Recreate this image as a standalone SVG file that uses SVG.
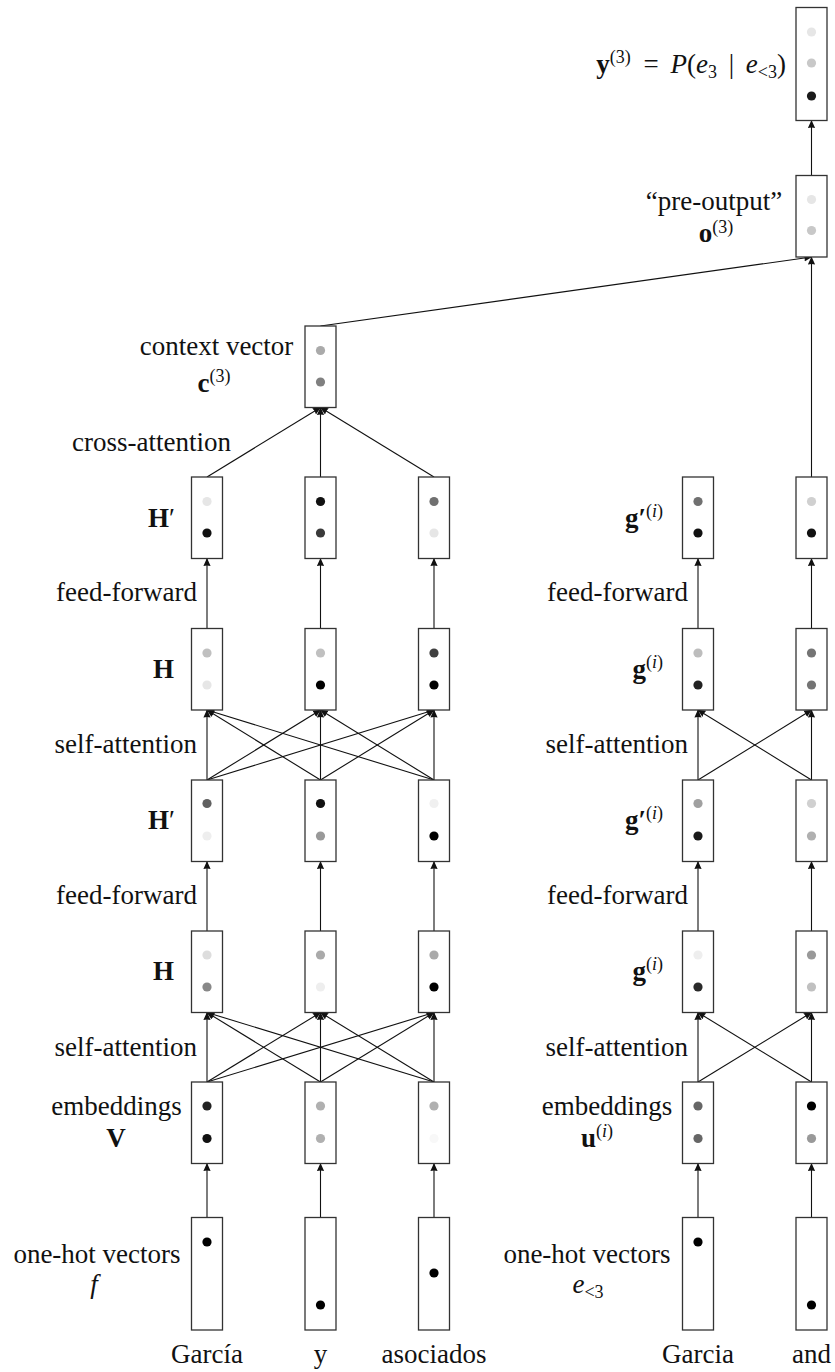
<svg xmlns="http://www.w3.org/2000/svg" width="835" height="1372" viewBox="0 0 835 1372">
<style>
.box{fill:#fff;stroke:#333;stroke-width:1.3}
.lbl{font-family:"Liberation Serif","Times New Roman",serif;font-size:27px;fill:#111}
.sup{font-size:18px}
.b{font-weight:bold}
.i{font-style:italic}
.edge{stroke:#111;stroke-width:1.1;fill:none;marker-end:url(#ah)}
</style>
<defs>
<marker id="ah" viewBox="0 0 8 8" refX="7.5" refY="4" markerWidth="8" markerHeight="8" markerUnits="userSpaceOnUse" orient="auto">
<path d="M0,0.4 L8,4 L0,7.6 Q1.2,4 0,0.4 Z" fill="#111"/>
</marker>
</defs>
<rect width="835" height="1372" fill="#fff"/>

<g id="connectors">
<!-- one-hot to embeddings -->
<line class="edge" x1="207" y1="1217.5" x2="207" y2="1163.5"/>
<line class="edge" x1="320.5" y1="1217.5" x2="320.5" y2="1163.5"/>
<line class="edge" x1="434" y1="1217.5" x2="434" y2="1163.5"/>
<line class="edge" x1="698" y1="1217.5" x2="698" y2="1163.5"/>
<line class="edge" x1="811.5" y1="1217.5" x2="811.5" y2="1163.5"/>
<!-- self-attention 1 (emb -> H) -->
<line class="edge" x1="207" y1="1082" x2="207" y2="1012.5"/>
<line class="edge" x1="207" y1="1082" x2="320.5" y2="1012.5"/>
<line class="edge" x1="207" y1="1082" x2="434" y2="1012.5"/>
<line class="edge" x1="320.5" y1="1082" x2="207" y2="1012.5"/>
<line class="edge" x1="320.5" y1="1082" x2="320.5" y2="1012.5"/>
<line class="edge" x1="320.5" y1="1082" x2="434" y2="1012.5"/>
<line class="edge" x1="434" y1="1082" x2="207" y2="1012.5"/>
<line class="edge" x1="434" y1="1082" x2="320.5" y2="1012.5"/>
<line class="edge" x1="434" y1="1082" x2="434" y2="1012.5"/>
<line class="edge" x1="698" y1="1082" x2="698" y2="1012.5"/>
<line class="edge" x1="698" y1="1082" x2="811.5" y2="1012.5"/>
<line class="edge" x1="811.5" y1="1082" x2="698" y2="1012.5"/>
<line class="edge" x1="811.5" y1="1082" x2="811.5" y2="1012.5"/>
<!-- feed-forward 1 (H -> H') -->
<line class="edge" x1="207" y1="931" x2="207" y2="861.5"/>
<line class="edge" x1="320.5" y1="931" x2="320.5" y2="861.5"/>
<line class="edge" x1="434" y1="931" x2="434" y2="861.5"/>
<line class="edge" x1="698" y1="931" x2="698" y2="861.5"/>
<line class="edge" x1="811.5" y1="931" x2="811.5" y2="861.5"/>
<!-- self-attention 2 (H' -> H) -->
<line class="edge" x1="207" y1="780" x2="207" y2="710"/>
<line class="edge" x1="207" y1="780" x2="320.5" y2="710"/>
<line class="edge" x1="207" y1="780" x2="434" y2="710"/>
<line class="edge" x1="320.5" y1="780" x2="207" y2="710"/>
<line class="edge" x1="320.5" y1="780" x2="320.5" y2="710"/>
<line class="edge" x1="320.5" y1="780" x2="434" y2="710"/>
<line class="edge" x1="434" y1="780" x2="207" y2="710"/>
<line class="edge" x1="434" y1="780" x2="320.5" y2="710"/>
<line class="edge" x1="434" y1="780" x2="434" y2="710"/>
<line class="edge" x1="698" y1="780" x2="698" y2="710"/>
<line class="edge" x1="698" y1="780" x2="811.5" y2="710"/>
<line class="edge" x1="811.5" y1="780" x2="698" y2="710"/>
<line class="edge" x1="811.5" y1="780" x2="811.5" y2="710"/>
<!-- feed-forward 2 (H -> H') -->
<line class="edge" x1="207" y1="628.5" x2="207" y2="558.5"/>
<line class="edge" x1="320.5" y1="628.5" x2="320.5" y2="558.5"/>
<line class="edge" x1="434" y1="628.5" x2="434" y2="558.5"/>
<line class="edge" x1="698" y1="628.5" x2="698" y2="558.5"/>
<line class="edge" x1="811.5" y1="628.5" x2="811.5" y2="558.5"/>
<!-- cross-attention -->
<line class="edge" x1="207" y1="477" x2="320.5" y2="407.5"/>
<line class="edge" x1="320.5" y1="477" x2="320.5" y2="407.5"/>
<line class="edge" x1="434" y1="477" x2="320.5" y2="407.5"/>
<!-- to pre-output -->
<line class="edge" x1="320.5" y1="326" x2="811.5" y2="257"/>
<line class="edge" x1="811.5" y1="477" x2="811.5" y2="257"/>
<!-- to output -->
<line class="edge" x1="811.5" y1="175.5" x2="811.5" y2="120.5"/>
</g>

<g id="output">
<rect class="box" x="796" y="7.5" width="31" height="113"/>
<circle cx="811.5" cy="32" r="4.6" fill="#e6e6e6"/>
<circle cx="811.5" cy="63" r="4.6" fill="#c8c8c8"/>
<circle cx="811.5" cy="96" r="4.6" fill="#1a1a1a"/>
</g>
<g id="preoutput">
<rect class="box" x="796" y="175.5" width="31" height="81.5"/>
<circle cx="811.5" cy="199.5" r="4.6" fill="#e6e6e6"/>
<circle cx="811.5" cy="230.5" r="4.6" fill="#c8c8c8"/>
</g>
<g id="context">
<rect class="box" x="305" y="326" width="31" height="81.5"/>
<circle cx="320.5" cy="350.5" r="4.6" fill="#aaaaaa"/>
<circle cx="320.5" cy="382" r="4.6" fill="#808080"/>
</g>

<!-- row 1: H' top -->
<g id="h2p-1"><rect class="box" x="191.5" y="477" width="31" height="81.5"/>
<circle cx="207" cy="501.5" r="4.6" fill="#e6e6e6"/><circle cx="207" cy="533" r="4.6" fill="#111"/></g>
<g id="h2p-2"><rect class="box" x="305" y="477" width="31" height="81.5"/>
<circle cx="320.5" cy="501.5" r="4.6" fill="#111"/><circle cx="320.5" cy="533" r="4.6" fill="#3a3a3a"/></g>
<g id="h2p-3"><rect class="box" x="418.5" y="477" width="31" height="81.5"/>
<circle cx="434" cy="501.5" r="4.6" fill="#707070"/><circle cx="434" cy="533" r="4.6" fill="#e6e6e6"/></g>
<g id="g2p-1"><rect class="box" x="682.5" y="477" width="31" height="81.5"/>
<circle cx="698" cy="501.5" r="4.6" fill="#707070"/><circle cx="698" cy="533" r="4.6" fill="#111"/></g>
<g id="g2p-2"><rect class="box" x="796" y="477" width="31" height="81.5"/>
<circle cx="811.5" cy="501.5" r="4.6" fill="#d0d0d0"/><circle cx="811.5" cy="533" r="4.6" fill="#111"/></g>

<!-- row 2: H -->
<g id="h2-1"><rect class="box" x="191.5" y="628.5" width="31" height="81.5"/>
<circle cx="207" cy="653" r="4.6" fill="#c0c0c0"/><circle cx="207" cy="685" r="4.6" fill="#e6e6e6"/></g>
<g id="h2-2"><rect class="box" x="305" y="628.5" width="31" height="81.5"/>
<circle cx="320.5" cy="653" r="4.6" fill="#c0c0c0"/><circle cx="320.5" cy="685" r="4.6" fill="#000"/></g>
<g id="h2-3"><rect class="box" x="418.5" y="628.5" width="31" height="81.5"/>
<circle cx="434" cy="653" r="4.6" fill="#404040"/><circle cx="434" cy="685" r="4.6" fill="#000"/></g>
<g id="g2-1"><rect class="box" x="682.5" y="628.5" width="31" height="81.5"/>
<circle cx="698" cy="653" r="4.6" fill="#bdbdbd"/><circle cx="698" cy="685" r="4.6" fill="#222"/></g>
<g id="g2-2"><rect class="box" x="796" y="628.5" width="31" height="81.5"/>
<circle cx="811.5" cy="653" r="4.6" fill="#747474"/><circle cx="811.5" cy="685" r="4.6" fill="#747474"/></g>

<!-- row 3: H' -->
<g id="h1p-1"><rect class="box" x="191.5" y="780" width="31" height="81.5"/>
<circle cx="207" cy="803.5" r="4.6" fill="#606060"/><circle cx="207" cy="836" r="4.6" fill="#eeeeee"/></g>
<g id="h1p-2"><rect class="box" x="305" y="780" width="31" height="81.5"/>
<circle cx="320.5" cy="803.5" r="4.6" fill="#111"/><circle cx="320.5" cy="836" r="4.6" fill="#999"/></g>
<g id="h1p-3"><rect class="box" x="418.5" y="780" width="31" height="81.5"/>
<circle cx="434" cy="803.5" r="4.6" fill="#f0f0f0"/><circle cx="434" cy="836" r="4.6" fill="#000"/></g>
<g id="g1p-1"><rect class="box" x="682.5" y="780" width="31" height="81.5"/>
<circle cx="698" cy="803.5" r="4.6" fill="#a0a0a0"/><circle cx="698" cy="836" r="4.6" fill="#1a1a1a"/></g>
<g id="g1p-2"><rect class="box" x="796" y="780" width="31" height="81.5"/>
<circle cx="811.5" cy="803.5" r="4.6" fill="#d0d0d0"/><circle cx="811.5" cy="836" r="4.6" fill="#b0b0b0"/></g>

<!-- row 4: H -->
<g id="h1-1"><rect class="box" x="191.5" y="931" width="31" height="81.5"/>
<circle cx="207" cy="955" r="4.6" fill="#dddddd"/><circle cx="207" cy="987" r="4.6" fill="#888"/></g>
<g id="h1-2"><rect class="box" x="305" y="931" width="31" height="81.5"/>
<circle cx="320.5" cy="955" r="4.6" fill="#aaa"/><circle cx="320.5" cy="987" r="4.6" fill="#eeeeee"/></g>
<g id="h1-3"><rect class="box" x="418.5" y="931" width="31" height="81.5"/>
<circle cx="434" cy="955" r="4.6" fill="#aaa"/><circle cx="434" cy="987" r="4.6" fill="#000"/></g>
<g id="g1-1"><rect class="box" x="682.5" y="931" width="31" height="81.5"/>
<circle cx="698" cy="955" r="4.6" fill="#eeeeee"/><circle cx="698" cy="987" r="4.6" fill="#2a2a2a"/></g>
<g id="g1-2"><rect class="box" x="796" y="931" width="31" height="81.5"/>
<circle cx="811.5" cy="955" r="4.6" fill="#999"/><circle cx="811.5" cy="987" r="4.6" fill="#c0c0c0"/></g>

<!-- row 5: embeddings -->
<g id="emb-1"><rect class="box" x="191.5" y="1082" width="31" height="81.5"/>
<circle cx="207" cy="1106" r="4.6" fill="#222"/><circle cx="207" cy="1138.5" r="4.6" fill="#111"/></g>
<g id="emb-2"><rect class="box" x="305" y="1082" width="31" height="81.5"/>
<circle cx="320.5" cy="1106" r="4.6" fill="#b0b0b0"/><circle cx="320.5" cy="1138.5" r="4.6" fill="#b0b0b0"/></g>
<g id="emb-3"><rect class="box" x="418.5" y="1082" width="31" height="81.5"/>
<circle cx="434" cy="1106" r="4.6" fill="#b0b0b0"/><circle cx="434" cy="1138.5" r="4.6" fill="#f8f8f8"/></g>
<g id="u-1"><rect class="box" x="682.5" y="1082" width="31" height="81.5"/>
<circle cx="698" cy="1106" r="4.6" fill="#666"/><circle cx="698" cy="1138.5" r="4.6" fill="#666"/></g>
<g id="u-2"><rect class="box" x="796" y="1082" width="31" height="81.5"/>
<circle cx="811.5" cy="1106" r="4.6" fill="#000"/><circle cx="811.5" cy="1138.5" r="4.6" fill="#999"/></g>

<!-- row 6: one-hot -->
<g id="f-1"><rect class="box" x="191.5" y="1217.5" width="31" height="112.5"/>
<circle cx="207" cy="1242" r="4.6" fill="#000"/></g>
<g id="f-2"><rect class="box" x="305" y="1217.5" width="31" height="112.5"/>
<circle cx="320.5" cy="1305" r="4.6" fill="#000"/></g>
<g id="f-3"><rect class="box" x="418.5" y="1217.5" width="31" height="112.5"/>
<circle cx="434" cy="1273" r="4.6" fill="#000"/></g>
<g id="e-1"><rect class="box" x="682.5" y="1217.5" width="31" height="112.5"/>
<circle cx="698" cy="1242" r="4.6" fill="#000"/></g>
<g id="e-2"><rect class="box" x="796" y="1217.5" width="31" height="112.5"/>
<circle cx="811.5" cy="1305" r="4.6" fill="#000"/></g>

<g id="labels" class="lbl">
<text x="786" y="73" text-anchor="end"><tspan class="b">y</tspan><tspan class="sup" dy="-10">(3)</tspan><tspan dy="10" dx="6">&#160;=&#160;</tspan><tspan class="i" dx="5">P</tspan>(<tspan class="i">e</tspan><tspan class="sup" dy="5">3</tspan><tspan dy="-5" dx="5">&#160;|&#160;</tspan><tspan class="i" dx="5">e</tspan><tspan class="sup" dy="5">&lt;3</tspan><tspan dy="-5">)</tspan></text>
<text x="714" y="210" text-anchor="middle">“pre-output”</text>
<text x="716" y="242" text-anchor="middle"><tspan class="b">o</tspan><tspan class="sup" dy="-9">(3)</tspan></text>
<text x="216.5" y="355" text-anchor="middle">context vector</text>
<text x="214" y="392" text-anchor="middle"><tspan class="b">c</tspan><tspan class="sup" dy="-10">(3)</tspan></text>
<text x="231" y="451" text-anchor="end">cross-attention</text>

<text x="175" y="527" text-anchor="end"><tspan class="b">H</tspan>′</text>
<text x="663" y="527" text-anchor="end"><tspan class="b">g′</tspan><tspan class="sup" dy="-10">(<tspan class="i">i</tspan>)</tspan></text>
<text x="197" y="601" text-anchor="end">feed-forward</text>
<text x="688" y="601" text-anchor="end">feed-forward</text>
<text x="174" y="678" text-anchor="end" class="b">H</text>
<text x="663" y="678" text-anchor="end"><tspan class="b">g</tspan><tspan class="sup" dy="-10">(<tspan class="i">i</tspan>)</tspan></text>
<text x="197" y="753" text-anchor="end">self-attention</text>
<text x="688" y="753" text-anchor="end">self-attention</text>
<text x="175" y="829" text-anchor="end"><tspan class="b">H</tspan>′</text>
<text x="663" y="829" text-anchor="end"><tspan class="b">g′</tspan><tspan class="sup" dy="-10">(<tspan class="i">i</tspan>)</tspan></text>
<text x="197" y="904" text-anchor="end">feed-forward</text>
<text x="688" y="904" text-anchor="end">feed-forward</text>
<text x="174" y="979.5" text-anchor="end" class="b">H</text>
<text x="663" y="979.5" text-anchor="end"><tspan class="b">g</tspan><tspan class="sup" dy="-10">(<tspan class="i">i</tspan>)</tspan></text>
<text x="197" y="1056" text-anchor="end">self-attention</text>
<text x="688" y="1056" text-anchor="end">self-attention</text>

<text x="116.5" y="1115" text-anchor="middle">embeddings</text>
<text x="116" y="1147" text-anchor="middle" class="b">V</text>
<text x="607" y="1115" text-anchor="middle">embeddings</text>
<text x="597" y="1147" text-anchor="middle"><tspan class="b">u</tspan><tspan class="sup" dy="-10">(<tspan class="i">i</tspan>)</tspan></text>

<text x="97" y="1263" text-anchor="middle">one-hot vectors</text>
<text x="94" y="1293" text-anchor="middle" class="i">f</text>
<text x="587" y="1263" text-anchor="middle">one-hot vectors</text>
<text x="588" y="1293" text-anchor="middle"><tspan class="i">e</tspan><tspan class="sup" dy="5">&lt;3</tspan></text>

<text x="207" y="1363" text-anchor="middle">García</text>
<text x="320.5" y="1363" text-anchor="middle">y</text>
<text x="434" y="1363" text-anchor="middle">asociados</text>
<text x="698" y="1363" text-anchor="middle">Garcia</text>
<text x="811.5" y="1363" text-anchor="middle">and</text>
</g>
</svg>
